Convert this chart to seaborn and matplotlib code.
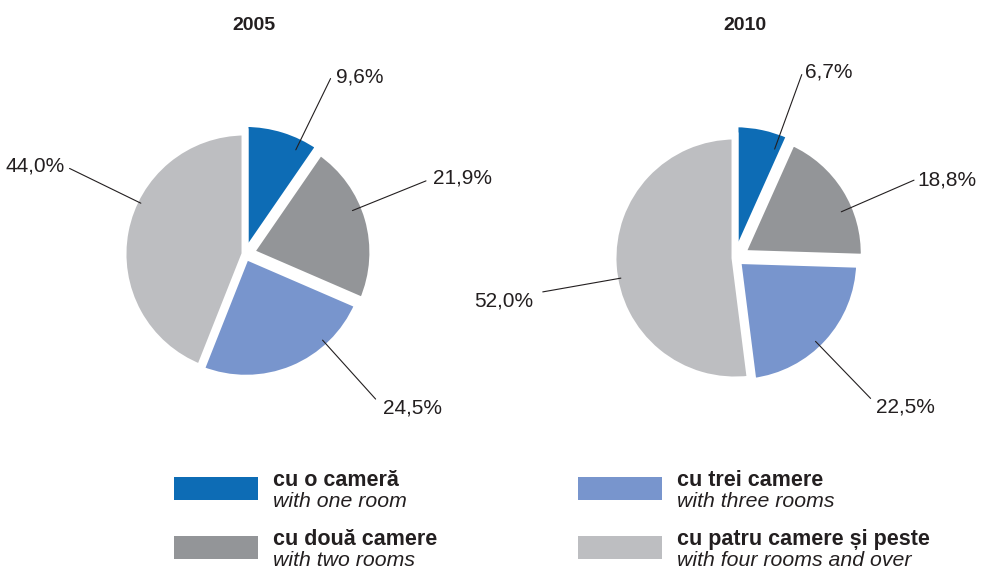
import numpy as np
import matplotlib.pyplot as plt
import seaborn as sns
from matplotlib.patches import Rectangle

# date
ani = ['2005', '2010']
categorii = ['cu o cameră', 'cu două camere', 'cu trei camere', 'cu patru camere și peste']
categorii_en = ['with one room', 'with two rooms', 'with three rooms', 'with four rooms and over']
valori_2005 = [9.6, 21.9, 24.5, 44.0]
valori_2010 = [6.7, 18.8, 22.5, 52.0]

culori = ['#0d6cb5', '#939598', '#7895cd', '#bdbec1']

sns.set_theme(style='white')
plt.rcParams['font.family'] = ['Liberation Sans', 'DejaVu Sans']

W, H = 992, 569
fig = plt.figure(figsize=(W / 100, H / 100), dpi=100)

# layout in pixeli
R = 122
box = 330
centre = {'2005': (245, 254), '2010': (735, 258)}
unghi_eticheta = {'2005': [64, 22, -48, 154], '2010': [70, 23.5, -46, 190]}
decalaj_text = {'2005': [(5, 2), (7, 3), (7, -9), (-5, 2)],
                '2010': [(3, 3), (3, 0), (5, -9), (-9, -9)]}
explode = {'2005': [0.0, 0.05, 0.02, 0.0], '2010': [0.0, 0.07, 0.03, 0.0]}
raza_albastru = {'2005': 1.07, '2010': 1.1}

for an, valori in zip(ani, [valori_2005, valori_2010]):
    cx, cy = centre[an]
    ax = fig.add_axes([(cx - box / 2) / W, (H - cy - box / 2) / H, box / W, box / H])
    wedges, _ = ax.pie(valori, colors=culori, startangle=90, counterclock=False,
                       explode=explode[an],
                       wedgeprops=dict(edgecolor='white', linewidth=5))
    wedges[0].set_radius(raza_albastru[an])
    lim = box / 2 / R
    ax.set_xlim(-lim, lim)
    ax.set_ylim(-lim, lim)
    ax.axis('off')

    for v, ang, (dx, dy) in zip(valori, unghi_eticheta[an], decalaj_text[an]):
        a = np.radians(ang)
        x0, y0 = 0.95 * np.cos(a), 0.95 * np.sin(a)
        x1, y1 = 1.6 * np.cos(a), 1.6 * np.sin(a)
        ax.plot([x0, x1], [y0, y1], color='#231f20', lw=0.8, clip_on=False)
        eticheta = f'{v:.1f}%'.replace('.', ',')
        ax.annotate(eticheta, xy=(x1, y1), xytext=(dx * 0.72, dy * 0.72),
                    textcoords='offset points', ha='left' if dx > 0 else 'right',
                    va='center', fontsize=15, color='#231f20', annotation_clip=False)

# titluri si legenda pe o axa de fundal in pixeli
lax = fig.add_axes([0, 0, 1, 1], zorder=-1)
lax.set_xlim(0, W)
lax.set_ylim(H, 0)
lax.axis('off')

for an, xt in zip(ani, [254, 745]):
    lax.text(xt, 25, an, ha='center', va='center', fontsize=14, fontweight='bold', color='#231f20')

poz_legenda = [(174, 477), (174, 536), (578, 477), (578, 536)]
for (x, y), cul, ro, en in zip(poz_legenda, culori, categorii, categorii_en):
    lax.add_patch(Rectangle((x, y), 84, 23, color=cul, lw=0))
    lax.text(x + 99, y + 9, ro, ha='left', va='baseline', fontsize=15.5, fontweight='bold', color='#231f20')
    lax.text(x + 99, y + 30, en, ha='left', va='baseline', fontsize=15.3, fontstyle='italic', color='#231f20')

fig.savefig('out.png', dpi=100)
